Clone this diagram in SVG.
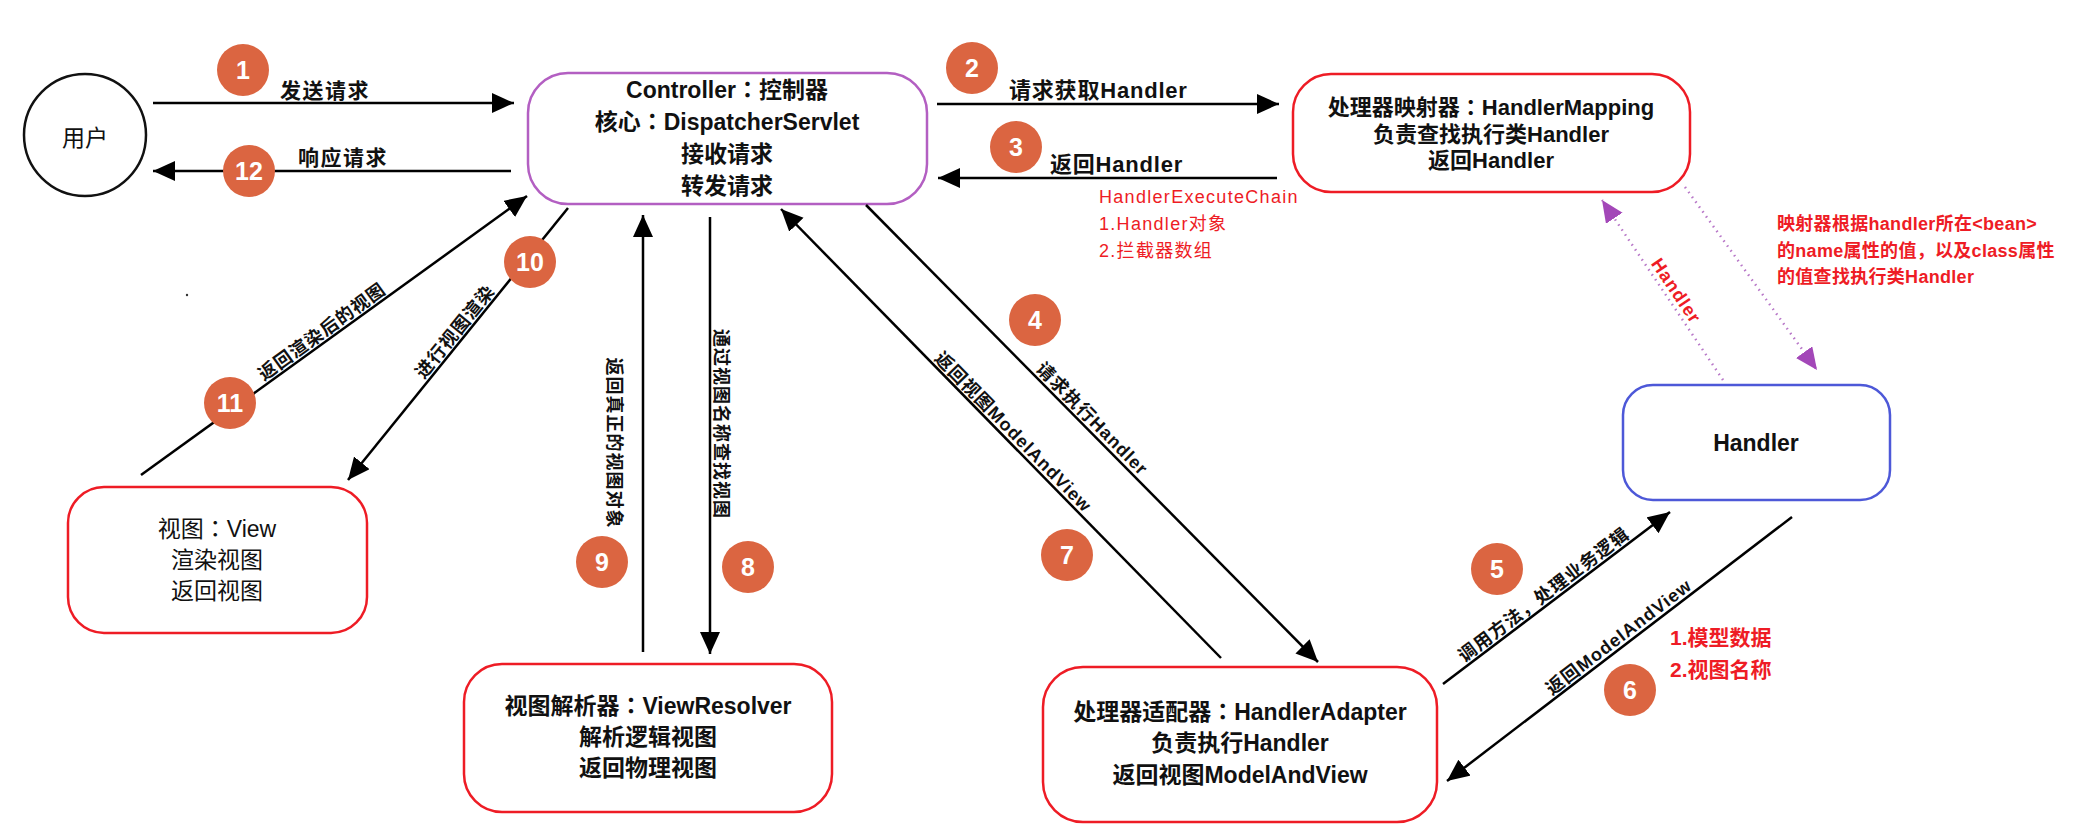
<svg xmlns="http://www.w3.org/2000/svg" width="2080" height="832" viewBox="0 0 2080 832">
<defs>
<style>
.t{font-family:"Liberation Sans","Noto Sans CJK SC",sans-serif;fill:#111}
.b{font-weight:bold}
.m{text-anchor:middle}
.c{font-family:"Noto Sans CJK TC","Noto Sans CJK SC",sans-serif}
.box{fill:#fff;stroke-width:2.5}
.red{stroke:#EE1C25}
.pur{stroke:#B35FC2}
.blu{stroke:#4D58D8}
.conn line{stroke:#000;stroke-width:2.5;marker-end:url(#ah)}
.conn line.dot{stroke:#B878C8;stroke-width:2.5;stroke-dasharray:1.5 4.5;marker-end:url(#ahp)}
.lbl{font-size:21px;font-weight:bold}
.rl{font-size:18px;font-weight:bold;letter-spacing:1px;text-anchor:middle}
.rt{fill:#EE1C25}
.badge circle{fill:#DB6541}
.badge text{fill:#fff;font-size:25px;font-weight:bold;text-anchor:middle;font-family:"Liberation Sans",sans-serif}
</style>
<marker id="ah" markerUnits="userSpaceOnUse" markerWidth="24" markerHeight="22" refX="22" refY="10" orient="auto">
<path d="M0,0 L22,10 L0,20 z" fill="#000"/>
</marker>
<marker id="ahp" markerUnits="userSpaceOnUse" markerWidth="24" markerHeight="22" refX="22" refY="10" orient="auto">
<path d="M0,0 L22,10 L0,20 z" fill="#A347B8"/>
</marker>
</defs>
<rect width="2080" height="832" fill="#fff"/>

<g id="user">
<circle cx="85" cy="135" r="61" fill="#fff" stroke="#111" stroke-width="2.5"/>
<text class="t m" x="85" y="146" font-size="23">用户</text>
</g>

<g id="controller">
<rect class="box pur" x="528" y="73" width="399" height="131" rx="40"/>
<text class="t b m" x="727" y="98" font-size="23">Controller<tspan class="c">：</tspan>控制器</text>
<text class="t b m" x="727" y="130" font-size="23">核心<tspan class="c">：</tspan>DispatcherServlet</text>
<text class="t b m" x="727" y="162" font-size="23">接收请求</text>
<text class="t b m" x="727" y="194" font-size="23">转发请求</text>
</g>

<g id="handlerMapping">
<rect class="box red" x="1293" y="74" width="397" height="118" rx="38"/>
<text class="t b m" x="1491" y="115" font-size="22">处理器映射器<tspan class="c">：</tspan>HandlerMapping</text>
<text class="t b m" x="1491" y="142" font-size="22">负责查找执行类Handler</text>
<text class="t b m" x="1491" y="168" font-size="22">返回Handler</text>
</g>

<g id="handler">
<rect class="box blu" x="1623" y="385" width="267" height="115" rx="30"/>
<text class="t b m" x="1756" y="451" font-size="23">Handler</text>
</g>

<g id="view">
<rect class="box red" x="68" y="487" width="299" height="146" rx="36"/>
<text class="t m" x="217" y="537" font-size="23">视图<tspan class="c">：</tspan>View</text>
<text class="t m" x="217" y="568" font-size="23">渲染视图</text>
<text class="t m" x="217" y="599" font-size="23">返回视图</text>
</g>

<g id="viewResolver">
<rect class="box red" x="464" y="664" width="368" height="148" rx="38"/>
<text class="t b m" x="648" y="714" font-size="23">视图解析器<tspan class="c">：</tspan>ViewResolver</text>
<text class="t b m" x="648" y="745" font-size="23">解析逻辑视图</text>
<text class="t b m" x="648" y="776" font-size="23">返回物理视图</text>
</g>

<g id="handlerAdapter">
<rect class="box red" x="1043" y="667" width="394" height="155" rx="40"/>
<text class="t b m" x="1240" y="720" font-size="23">处理器适配器<tspan class="c">：</tspan>HandlerAdapter</text>
<text class="t b m" x="1240" y="751" font-size="23">负责执行Handler</text>
<text class="t b m" x="1240" y="783" font-size="23">返回视图ModelAndView</text>
</g>

<g id="connectors" class="conn">
<line x1="153" y1="103" x2="514" y2="103"/>
<line x1="511" y1="171" x2="153" y2="171"/>
<line x1="937" y1="104" x2="1279" y2="104"/>
<line x1="1277" y1="178" x2="938" y2="178"/>
<line x1="866" y1="205" x2="1318" y2="662"/>
<line x1="1443" y1="684" x2="1670" y2="512"/>
<line x1="1792" y1="517" x2="1447" y2="781"/>
<line x1="1221" y1="658" x2="781" y2="209"/>
<line x1="710" y1="217" x2="710" y2="654"/>
<line x1="643" y1="652" x2="643" y2="215"/>
<line x1="568" y1="208" x2="348" y2="480"/>
<line x1="141" y1="475" x2="527" y2="196"/>
<line class="dot" x1="1723" y1="380" x2="1602" y2="200"/>
<line class="dot" x1="1685" y1="187" x2="1817" y2="370"/>
</g>

<g id="connector-labels" class="t">
<text class="t lbl" x="280" y="98" letter-spacing="1.5">发送请求</text>
<text class="t lbl" x="298" y="165" letter-spacing="1.5">响应请求</text>
<text class="t b" x="1009" y="98" font-size="22" letter-spacing="0.8">请求获取Handler</text>
<text class="t b" x="1050" y="172" font-size="22" letter-spacing="0.8">返回Handler</text>
<g transform="translate(328,340) rotate(-35.9)"><text class="t rl" x="0" y="-4">返回渲染后的视图</text></g>
<g transform="translate(463,338) rotate(-51)"><text class="t rl" x="0" y="-4">进行视图渲染</text></g>
<g transform="translate(608,443) rotate(90)"><text class="t rl" x="0" y="0">返回真正的视图对象</text></g>
<g transform="translate(715,424) rotate(90)"><text class="t rl" x="0" y="0">通过视图名称查找视图</text></g>
<g transform="translate(1006,439) rotate(45.6)"><text class="t rl" x="0" y="-4">返回视图ModelAndView</text></g>
<g transform="translate(1085,426) rotate(45.3)"><text class="t rl" x="0" y="-4">请求执行Handler</text></g>
<g transform="translate(1550,603) rotate(-37.2)"><text class="t rl" x="0" y="-4">调用方法，处理业务逻辑</text></g>
<g transform="translate(1625,645) rotate(-37.4)"><text class="t rl" x="0" y="-4">返回ModelAndView</text></g>
<g transform="translate(1667,297) rotate(56.1)"><text class="t rl rt" x="0" y="-5" font-size="19">Handler</text></g>
</g>

<g id="notes" class="t">
<text class="t rt" x="1099" y="203" font-size="18" letter-spacing="1.3">HandlerExecuteChain</text>
<text class="t rt" x="1099" y="230" font-size="18" letter-spacing="1.3">1.Handler对象</text>
<text class="t rt" x="1099" y="257" font-size="18" letter-spacing="1.3">2.拦截器数组</text>
<text class="t b rt" x="1777" y="230" font-size="18" letter-spacing="0.3">映射器根据handler所在&lt;bean&gt;</text>
<text class="t b rt" x="1777" y="257" font-size="18" letter-spacing="0.3">的name属性的值，以及class属性</text>
<text class="t b rt" x="1777" y="283" font-size="18" letter-spacing="0.3">的值查找执行类Handler</text>
<text class="t b rt" x="1670" y="645" font-size="21">1.模型数据</text>
<text class="t b rt" x="1670" y="677" font-size="21">2.视图名称</text>
<circle cx="187" cy="295" r="1.2" fill="#333"/>
</g>

<g id="badges">
<g class="badge"><circle cx="243" cy="70" r="26"/><text x="243" y="79">1</text></g>
<g class="badge"><circle cx="972" cy="68" r="26"/><text x="972" y="77">2</text></g>
<g class="badge"><circle cx="1016" cy="147" r="26"/><text x="1016" y="156">3</text></g>
<g class="badge"><circle cx="1035" cy="320" r="26"/><text x="1035" y="329">4</text></g>
<g class="badge"><circle cx="1497" cy="569" r="26"/><text x="1497" y="578">5</text></g>
<g class="badge"><circle cx="1630" cy="690" r="26"/><text x="1630" y="699">6</text></g>
<g class="badge"><circle cx="1067" cy="555" r="26"/><text x="1067" y="564">7</text></g>
<g class="badge"><circle cx="748" cy="567" r="26"/><text x="748" y="576">8</text></g>
<g class="badge"><circle cx="602" cy="562" r="26"/><text x="602" y="571">9</text></g>
<g class="badge"><circle cx="530" cy="262" r="26"/><text x="530" y="271">10</text></g>
<g class="badge"><circle cx="230" cy="403" r="26"/><text x="230" y="412">11</text></g>
<g class="badge"><circle cx="249" cy="171" r="26"/><text x="249" y="180">12</text></g>
</g>
</svg>
